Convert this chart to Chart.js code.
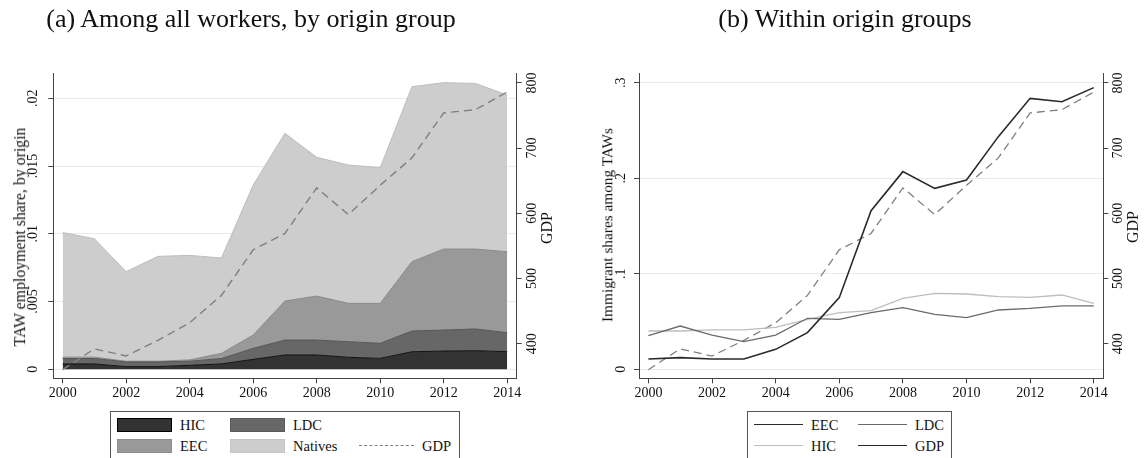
<!DOCTYPE html>
<html>
<head>
<meta charset="utf-8">
<script src="https://cdn.jsdelivr.net/npm/chart.js@4.4.1/dist/chart.umd.min.js"></script>
<style>
html, body { margin: 0; padding: 0; width: 1144px; height: 458px; overflow: hidden; background: #fff; }
body { font-family: 'Liberation Serif', 'Times New Roman', serif; color: #111; }
#wrap { position: relative; width: 1144px; height: 458px; }
canvas { position: absolute; top: 0; }
.t { position: absolute; white-space: nowrap; line-height: 1; }
.head { font-size: 26px; top: 6px; transform: translateX(-50%); }
.rot { font-size: 16px; transform: translate(-50%, -50%) rotate(-90deg); }
.leg { position: absolute; top: 411px; height: 70px; border: 1px solid #555; background: #fff; box-sizing: border-box; }
.sw { position: absolute; box-sizing: border-box; }
.lt { position: absolute; font-size: 14.5px; line-height: 1; transform: translateY(-50%); }
</style>
</head>
<body>
<div id="wrap">
  <canvas id="chartA" width="572" height="458" style="left:0"></canvas>
  <canvas id="chartB" width="572" height="458" style="left:572px"></canvas>

  <div class="t head" style="left:251px">(a) Among all workers, by origin group</div>
  <div class="t head" style="left:845px">(b) Within origin groups</div>

  <div class="t rot" style="left:20px; top:237px; font-size:15.8px">TAW employment share, by origin</div>
  <div class="t rot" style="left:547px; top:228px">GDP</div>
  <div class="t rot" style="left:607px; top:225px; font-size:15.3px">Immigrant shares among TAWs</div>
  <div class="t rot" style="left:1133px; top:227px">GDP</div>

  <div class="leg" id="legA" style="left:110px; width:350px"></div>
  <div class="leg" id="legB" style="left:747px; width:205px"></div>
</div>

<script>
// years on the x axis
const years = [2000, 2001, 2002, 2003, 2004, 2005, 2006, 2007, 2008, 2009, 2010, 2011, 2012, 2013, 2014];

// panel (a): TAW employment share by origin (stacked)
const hicShare     = [0.0004, 0.0004, 0.0002, 0.0002, 0.0003, 0.0004, 0.00074, 0.00106, 0.00106, 0.00089, 0.00081, 0.0013, 0.00135, 0.00138, 0.0013];
const ldcShare     = [0.0004, 0.0004, 0.00035, 0.00035, 0.0003, 0.0004, 0.00081, 0.0011, 0.0011, 0.00115, 0.00111, 0.00153, 0.00155, 0.0016, 0.00141];
const eecShare     = [0.0001, 0.0001, 0.00005, 0.00005, 0.0001, 0.00038, 0.00098, 0.00288, 0.00325, 0.00283, 0.00295, 0.00512, 0.00598, 0.0059, 0.00597];
const nativesShare = [0.0092, 0.00874, 0.00661, 0.00774, 0.00771, 0.00704, 0.01107, 0.01238, 0.01024, 0.01021, 0.01001, 0.01291, 0.01228, 0.01222, 0.01157];

// GDP (right axis, both panels)
const gdp = [360, 392, 381, 405, 432, 474, 544, 569, 639, 598, 643, 685, 754, 759, 786];

// panel (b): immigrant shares among TAWs
const eecWithin = [0.0108, 0.0122, 0.0108, 0.0108, 0.0209, 0.0384, 0.075, 0.166, 0.2069, 0.1894, 0.1981, 0.2435, 0.2836, 0.2801, 0.2948];
const ldcWithin = [0.0352, 0.0453, 0.0359, 0.029, 0.0359, 0.0534, 0.0523, 0.0593, 0.0645, 0.0576, 0.0541, 0.0621, 0.0638, 0.0663, 0.0663];
const hicWithin = [0.0401, 0.0401, 0.0412, 0.0412, 0.044, 0.0523, 0.0593, 0.0614, 0.0743, 0.0795, 0.0788, 0.076, 0.0753, 0.0778, 0.0691];

// ticks
const xTicks = [2000, 2002, 2004, 2006, 2008, 2010, 2012, 2014];
const shareTicks = [0, 0.005, 0.01, 0.015, 0.02];
const shareTickLabels = ['0', '.005', '.01', '.015', '.02'];
const withinTicks = [0, 0.1, 0.2, 0.3];
const withinTickLabels = ['0', '.1', '.2', '.3'];
const gdpTicks = [400, 500, 600, 700, 800];
const gdpTickLabels = ['400', '500', '600', '700', '800'];

Chart.defaults.font.family = "'Liberation Serif', 'Times New Roman', serif";
Chart.defaults.color = '#111';

const AXIS = '#444';
const GRID = '#e3ecee';

function pts(arr) {
    return years.map((yr, i) => ({x: yr, y: arr[i]}));
}

function xAxis() {
    return {
        type: 'linear', min: 1999.705, max: 2014.3,
        afterBuildTicks: s => { s.ticks = xTicks.map(v => ({value: v})); },
        afterFit: s => { s.height = 30; },
        ticks: {callback: v => String(v), font: {size: 14}, padding: 2, maxRotation: 0, autoSkip: false},
        grid: {drawOnChartArea: false, tickLength: 5, tickColor: AXIS},
        border: {color: AXIS, width: 1}
    };
}

function yAxis(pos, min, max, tickVals, tickLabels, width, pad, grid) {
    return {
        type: 'linear', position: pos, min: min, max: max,
        stacked: false,
        afterBuildTicks: s => { s.ticks = tickVals.map(v => ({value: v})); },
        afterFit: s => { s.width = width; },
        ticks: {
            callback: (v, i) => tickLabels[i],
            font: {size: 14}, minRotation: 90, maxRotation: 90,
            crossAlign: 'center', padding: pad, autoSkip: false
        },
        grid: {drawOnChartArea: grid, color: GRID, tickLength: 5, tickColor: AXIS},
        border: {color: AXIS, width: 1}
    };
}

function line(label, arr, color, width, axis, dash) {
    return {
        label: label, data: pts(arr), yAxisID: axis,
        borderColor: color, borderWidth: width, borderDash: dash || [],
        pointRadius: 0, fill: false, tension: 0
    };
}

function area(label, arr, fillColor, edgeColor, fill) {
    return {
        label: label, data: pts(arr), yAxisID: 'y', stack: 'origin',
        backgroundColor: fillColor, borderColor: edgeColor, borderWidth: 1,
        pointRadius: 0, fill: fill, tension: 0
    };
}

// panel (a)
const leftY = yAxis('left', -0.00066, 0.02185, shareTicks, shareTickLabels, 53.3, 2.3, true);
leftY.stacked = true;
const chartA = new Chart(document.getElementById('chartA'), {
    type: 'line',
    data: {
        datasets: [
            line('GDP', gdp, '#7f7f7f', 1.4, 'y1', [8, 5]),
            area('HIC', hicShare, '#333333', '#111111', 'origin'),
            area('LDC', ldcShare, '#676767', '#555555', '-1'),
            area('EEC', eecShare, '#999999', '#8a8a8a', '-1'),
            area('Natives', nativesShare, '#cdcdcd', '#bdbdbd', '-1')
        ]
    },
    options: {
        responsive: false, animation: false, devicePixelRatio: 1,
        layout: {padding: {left: 0, right: 10.3, top: 73.3, bottom: 49.7}},
        plugins: {legend: {display: false}, tooltip: {enabled: false}},
        scales: {
            x: xAxis(),
            y: leftY,
            y1: yAxis('right', 346.8, 814.8, gdpTicks, gdpTickLabels, 45, 0, false)
        }
    }
});

// panel (b)
const chartB = new Chart(document.getElementById('chartB'), {
    type: 'line',
    data: {
        datasets: [
            line('EEC', eecWithin, '#2a2a2a', 1.6, 'y'),
            line('LDC', ldcWithin, '#6a6a6a', 1.3, 'y'),
            line('HIC', hicWithin, '#bdbdbd', 1.3, 'y'),
            line('GDP', gdp, '#7f7f7f', 1.3, 'y1', [8, 5])
        ]
    },
    options: {
        responsive: false, animation: false, devicePixelRatio: 1,
        layout: {padding: {left: 0, right: 10.7, top: 73.3, bottom: 49.7}},
        plugins: {legend: {display: false}, tooltip: {enabled: false}},
        scales: {
            x: xAxis(),
            y: yAxis('left', -0.0094, 0.3098, withinTicks, withinTickLabels, 67, 7, true),
            y1: yAxis('right', 346.8, 814.8, gdpTicks, gdpTickLabels, 30, 0, false)
        }
    }
});

// legends (stata-style boxes under each panel)
function legendBox(el, items, cols, rows, swW) {
    items.forEach(it => {
        const cx = cols[it.col], cy = rows[it.row];
        const sw = document.createElement('div');
        sw.className = 'sw';
        if (it.kind === 'box') {
            sw.style.cssText = `left:${cx}px; top:${cy - 7}px; width:${swW}px; height:14px; background:${it.fill}; border:1.5px solid ${it.edge};`;
        } else {
            sw.style.cssText = `left:${cx}px; top:${cy - 0.75}px; width:${swW}px; height:0; border-top:${it.width}px ${it.dash ? 'dashed' : 'solid'} ${it.color};`;
        }
        el.appendChild(sw);
        const tx = document.createElement('div');
        tx.className = 'lt';
        tx.style.left = (cx + swW + 8) + 'px';
        tx.style.top = cy + 'px';
        tx.textContent = it.label;
        el.appendChild(tx);
    });
}

const dsA = chartA.data.datasets;
legendBox(document.getElementById('legA'), [
    {label: 'HIC', kind: 'box', fill: dsA[1].backgroundColor, edge: '#000', col: 0, row: 0},
    {label: 'LDC', kind: 'box', fill: dsA[2].backgroundColor, edge: '#5a5a5a', col: 1, row: 0},
    {label: 'EEC', kind: 'box', fill: dsA[3].backgroundColor, edge: '#8e8e8e', col: 0, row: 1},
    {label: 'Natives', kind: 'box', fill: dsA[4].backgroundColor, edge: '#c4c4c4', col: 1, row: 1},
    {label: 'GDP', kind: 'line', color: dsA[0].borderColor, width: 1.3, dash: true, col: 2, row: 1}
], [6, 119, 248], [13, 34], 55);

const dsB = chartB.data.datasets;
legendBox(document.getElementById('legB'), [
    {label: 'EEC', kind: 'line', color: dsB[0].borderColor, width: 1.5, col: 0, row: 0},
    {label: 'LDC', kind: 'line', color: dsB[1].borderColor, width: 1.3, col: 1, row: 0},
    {label: 'HIC', kind: 'line', color: dsB[2].borderColor, width: 1.3, col: 0, row: 1},
    {label: 'GDP', kind: 'line', color: '#2a2a2a', width: 1.3, col: 1, row: 1}
], [6, 110], [13, 34], 49);
</script>
</body>
</html>
